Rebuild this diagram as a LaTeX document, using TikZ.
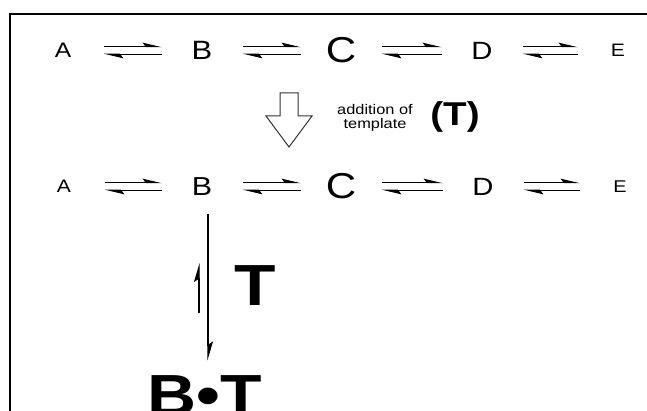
\documentclass[tikz,border=0pt]{standalone}
\usepackage{fontspec}
\setmainfont{Liberation Sans}[FakeStretch=1.17]
\usetikzlibrary{arrows.meta}
\begin{document}
\begin{tikzpicture}[x=1pt,y=-1pt,
  lbl/.style={inner sep=0pt, anchor=center},
  harp/.style={line width=1.1pt, -{Stealth[left,length=17pt,width=8pt,inset=3pt]}},
  fwd/.style={harp, shorten <=41pt, shorten >=40pt},
  bwd/.style={harp, shorten <=40pt, shorten >=41pt},
  vharp/.style={line width=1.1pt, -{Stealth[left,length=17pt,width=10pt,inset=3pt]}},
  frame/.style={line width=2.6pt},
  hollow/.style={line width=1pt, draw=black!80, fill=white, line join=miter}
  ]
\useasboundingbox (0,0) rectangle (647,411);
\draw[frame] (10,700) |- (800,14);

% row 1
\node[lbl, font=\fontsize{21}{25}\selectfont] (a1) at (63,50.5) {A};
\node[lbl, font=\fontsize{26.5}{30}\selectfont] (b1) at (202,50.5) {B};
\node[lbl, font=\fontsize{36}{40}\selectfont] (c1) at (341,50.5) {C};
\node[lbl, font=\fontsize{25}{30}\selectfont] (d1) at (482,50.5) {D};
\node[lbl, font=\fontsize{18}{22}\selectfont] (e1) at (618,50.5) {E};

\foreach \p/\q in {a1/b1,b1/c1,c1/d1,d1/e1}{
  \draw[fwd] ([yshift=3.8pt]\p.center) -- ([yshift=3.8pt]\q.center);
  \draw[bwd] ([yshift=-3.8pt]\q.center) -- ([yshift=-3.8pt]\p.center);
}

% hollow arrow
\draw[hollow] (280,93) -- (298,93) -- (298,116) -- (312,116) -- (289,147)
  -- (266,116) -- (280,116) -- cycle;
\node[lbl, align=center, font=\fontsize{14}{13.5}\selectfont] (add) at (375,118)
  {addition of\\template};
\node[lbl, font=\fontsize{33}{38}\selectfont\bfseries] (tp) at (455,116.5) {(T)};

% row 2
\node[lbl, font=\fontsize{18}{22}\selectfont] (a2) at (64,186.5) {A};
\node[lbl, font=\fontsize{26}{30}\selectfont] (b2) at (202,186.5) {B};
\node[lbl, font=\fontsize{36}{40}\selectfont] (c2) at (341,186.5) {C};
\node[lbl, font=\fontsize{25}{30}\selectfont] (d2) at (483,186.5) {D};
\node[lbl, font=\fontsize{17}{20}\selectfont] (e2) at (620,186.5) {E};

\foreach \p/\q in {a2/b2,b2/c2,c2/d2,d2/e2}{
  \draw[fwd] ([yshift=3.8pt]\p.center) -- ([yshift=3.8pt]\q.center);
  \draw[bwd] ([yshift=-3.8pt]\q.center) -- ([yshift=-3.8pt]\p.center);
}

% binding of template
\node[lbl, font=\fontsize{58}{64}\selectfont\bfseries] (t) at (255.5,286) {T};
\node[inner sep=0pt, anchor=base, font=\fontsize{58}{64}\selectfont\bfseries] (bt) at (205,415) {B•T};
\coordinate (vx) at (208,0);
\draw[vharp, shorten <=18pt, shorten >=14.5pt] (b2.south -| vx) -- (bt.north -| vx);
\coordinate (s1) at (199,313);
\coordinate (s2) at (199,263);
\draw[vharp] (s1) -- (s2);
\end{tikzpicture}
\end{document}
